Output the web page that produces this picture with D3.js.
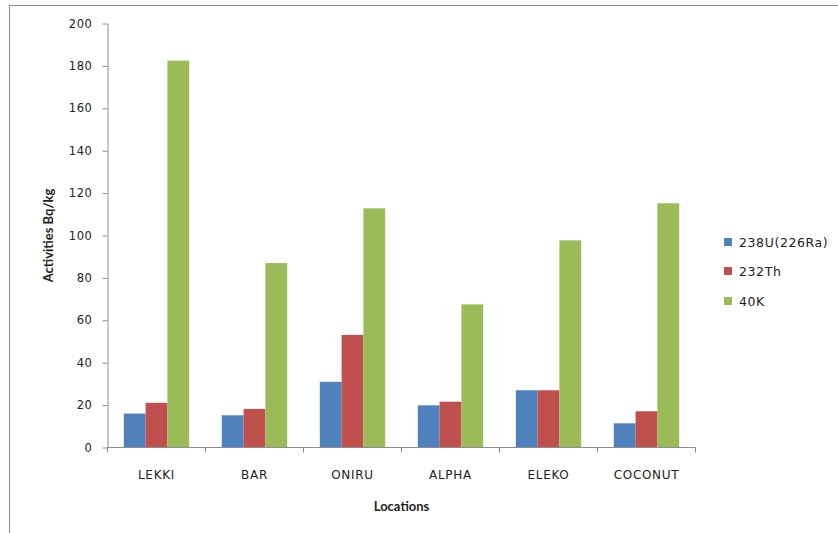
<!DOCTYPE html>
<html>
<head>
<meta charset="utf-8">
<script src="https://cdn.jsdelivr.net/npm/d3@7"></script>
<style>
  html, body { margin: 0; padding: 0; background: #fff; }
  svg { display: block; }
  .tick text { font-family: "DejaVu Sans", Verdana, sans-serif; font-size: 11.5px; fill: #222; letter-spacing: 0.6px; }
</style>
</head>
<body>
<svg id="chart" width="838" height="533"></svg>
<script>
// Sampling locations along the coast
const locations = ["LEKKI", "BAR", "ONIRU", "ALPHA", "ELEKO", "COCONUT"];
// Radionuclide series
const seriesNames = ["238U(226Ra)", "232Th", "40K"];
const seriesColors = ["#4F81BD", "#C0504D", "#9BBB59"];
// Activity concentrations, Bq/kg
const u238 = [16, 15.2, 31, 19.9, 27, 11.4];
const th232 = [21.1, 18.2, 53.1, 21.6, 27, 17.1];
const k40 = [182.5, 87, 112.8, 67.5, 97.7, 115.2];
const yTicks = [0, 20, 40, 60, 80, 100, 120, 140, 160, 180, 200];

const seriesValues = [u238, th232, k40];
const rows = locations.map((loc, i) => ({
  loc,
  vals: seriesValues.map((s, j) => ({ key: seriesNames[j], value: s[i], color: seriesColors[j] }))
}));

const svg = d3.select("#chart");
const plot = { left: 107.5, right: 695.5, top: 23.5, bottom: 447.5 };

// Outer chart frame (runs off the right and bottom edges)
svg.append("rect")
  .attr("x", 9.5).attr("y", 5.5)
  .attr("width", 840).attr("height", 540)
  .attr("fill", "none").attr("stroke", "#8c8c8c").attr("stroke-width", 1);

const x0 = d3.scaleBand().domain(locations).range([plot.left, plot.right]).paddingInner(0).paddingOuter(0);
const groupW = x0.bandwidth() * 0.667;
const x1 = d3.scaleBand().domain(seriesNames).range([0, groupW]).padding(0);
const y = d3.scaleLinear().domain([0, 200]).range([plot.bottom, plot.top]);

// Bars
const g = svg.append("g");
g.selectAll("g.grp").data(rows).join("g")
  .attr("class", "grp")
  .attr("transform", d => `translate(${x0(d.loc) + (x0.bandwidth() - groupW) / 2},0)`)
  .selectAll("rect").data(d => d.vals).join("rect")
  .attr("x", d => x1(d.key))
  .attr("width", x1.bandwidth())
  .attr("y", d => y(d.value))
  .attr("height", d => y(0) - y(d.value))
  .attr("fill", d => d.color);

// Y axis
const yAxis = svg.append("g")
  .attr("transform", `translate(${plot.left},0)`)
  .call(d3.axisLeft(y).tickValues(yTicks).tickSize(5).tickPadding(10).tickSizeOuter(0));
yAxis.select(".domain").attr("stroke", "#8c8c8c");
yAxis.selectAll(".tick line").attr("stroke", "#8c8c8c");

// X axis with ticks at category boundaries
const xAxis = svg.append("g").attr("transform", `translate(0,${plot.bottom})`);
xAxis.append("line")
  .attr("x1", plot.left).attr("x2", plot.right)
  .attr("stroke", "#8c8c8c");
const bounds = locations.map(l => x0(l)).concat([plot.right]);
xAxis.selectAll("line.bt").data(bounds).join("line")
  .attr("class", "bt")
  .attr("x1", d => d).attr("x2", d => d)
  .attr("y1", 0).attr("y2", 5)
  .attr("stroke", "#8c8c8c");
xAxis.selectAll("text").data(locations).join("text")
  .attr("x", d => x0(d) + x0.bandwidth() / 2)
  .attr("y", 31)
  .attr("text-anchor", "middle")
  .attr("font-family", "DejaVu Sans, Verdana, sans-serif")
  .attr("font-size", "12px")
  .attr("letter-spacing", "0.7px")
  .attr("fill", "#222")
  .text(d => d);

// Axis titles
svg.append("text")
  .attr("x", (plot.left + plot.right) / 2).attr("y", 511)
  .attr("text-anchor", "middle")
  .attr("font-family", "Lato, 'Open Sans', sans-serif")
  .attr("font-weight", "bold")
  .attr("font-size", "13px")
  .attr("fill", "#222")
  .text("Locations");

svg.append("text")
  .attr("transform", `translate(53,${(plot.top + plot.bottom) / 2}) rotate(-90)`)
  .attr("text-anchor", "middle")
  .attr("font-family", "Lato, 'Open Sans', sans-serif")
  .attr("font-weight", "bold")
  .attr("font-size", "13px")
  .attr("fill", "#222")
  .text("Activities Bq/kg");

// Legend
const legend = svg.append("g").attr("transform", "translate(724,0)");
const legY = [242, 271, 301];
seriesNames.forEach((name, i) => {
  legend.append("rect")
    .attr("x", 0).attr("y", legY[i] - 4)
    .attr("width", 8).attr("height", 8)
    .attr("fill", seriesColors[i]);
  legend.append("text")
    .attr("x", 15).attr("y", legY[i] + 4.5)
    .attr("font-family", "DejaVu Sans, Verdana, sans-serif")
    .attr("font-size", "12.5px")
    .attr("letter-spacing", "0.6px")
    .attr("fill", "#222")
    .text(name);
});
</script>
</body>
</html>
